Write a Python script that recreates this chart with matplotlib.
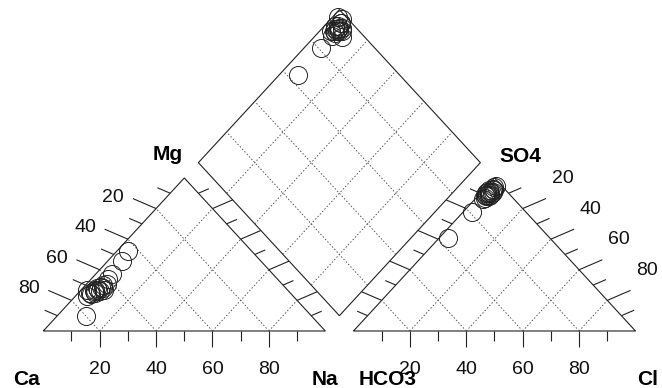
import numpy as np
import matplotlib
matplotlib.use("Agg")
import matplotlib.pyplot as plt

plt.rcParams['font.family'] = ['Liberation Sans', 'DejaVu Sans']

# cation percentages (Ca, Mg, Na) and anion percentages (HCO3, SO4, Cl) per sample
mg = [27, 26, 52, 25, 27, 29, 26, 28, 24, 46, 27, 25, 31, 27, 23, 34, 37, 30, 28, 10]
na = [6, 5, 4, 6, 5, 6, 7, 5, 5, 5, 8, 4, 7, 2, 4, 6, 6, 6, 7, 10]
so4 = [90, 91, 89, 92, 90, 88, 91, 93, 89, 92, 90, 87, 91, 94, 95, 88, 86, 78, 61, 89]
cl = [3, 3, 4, 2, 2, 3, 4, 3, 2, 4, 4, 3, 2, 3, 3, 4, 3, 3, 3, 3]

ticks = [10, 20, 30, 40, 50, 60, 70, 80, 90]
labels = [20, 40, 60, 80]

g = 0.1
h = np.sqrt(3) / 2
ang = np.radians(34.5)
ca_, sa_ = np.cos(ang), np.sin(ang)
long_len = 0.1
short_len = 0.055
link_len = h * g / np.cos(ang - np.radians(30))

fig = plt.figure(figsize=(6.62, 3.88), dpi=100)
ax = fig.add_axes([0, 0, 1, 1])
ax.set_xlim(-0.1535, 2.194)
ax.set_ylim(-0.3226, 1.873)
ax.axis('off')

lc = '#222222'
gc = '#555555'


def seg(p, q, **kw):
    ax.plot([p[0], q[0]], [p[1], q[1]], **kw)


solid = dict(color=lc, lw=0.8, solid_capstyle='butt')
dotted = dict(color=gc, lw=0.7, linestyle=(0, (1.5, 2)))

# triangles
for x0 in [0, 1 + g]:
    ax.plot([x0, x0 + 1, x0 + 0.5, x0], [0, 0, h, 0], **solid)
    for v in labels:
        f = v / 100
        seg((x0 + f, 0), (x0 + 0.5 + 0.5 * f, h * (1 - f)), **dotted)
        seg((x0 + f, 0), (x0 + 0.5 * f, h * f), **dotted)
    # bottom ticks
    for v in ticks:
        f = v / 100
        L = 0.088 if v % 20 == 0 else 0.058
        seg((x0 + f, 0), (x0 + f, -L), **solid)
    for v in labels:
        ax.text(x0 + v / 100, -0.245, str(v), ha='center', va='baseline',
                fontsize=14, color='#111111')

# diamond
B = np.array([1 + g / 2, h * g])
Ld = np.array([0.5 + g / 2, h * (1 + g)])
T = np.array([1 + g / 2, h * (2 + g)])
R = np.array([1.5 + g / 2, h * (1 + g)])
ax.plot([B[0], Ld[0], T[0], R[0], B[0]], [B[1], Ld[1], T[1], R[1], B[1]], **solid)
for v in labels:
    f = v / 100
    seg(B + f * (R - B), Ld + f * (T - Ld), **dotted)
    seg(B + f * (Ld - B), R + f * (T - R), **dotted)

# edge ticks
for v in ticks:
    f = v / 100
    even = v % 20 == 0
    # left triangle, left edge (outward)
    p = np.array([0.5 - 0.5 * f, h * (1 - f)])
    L = long_len if even else short_len
    seg(p, p + L * np.array([-ca_, sa_]), **solid)
    # left triangle, right edge (towards diamond)
    p = np.array([0.5 + 0.5 * f, h * (1 - f)])
    L = link_len if even else 0.045
    seg(p, p + L * np.array([ca_, sa_]), **solid)
    # right triangle, left edge (towards diamond)
    p = np.array([1 + g + 0.5 - 0.5 * f, h * (1 - f)])
    seg(p, p + L * np.array([-ca_, sa_]), **solid)
    # right triangle, right edge (outward)
    p = np.array([1 + g + 0.5 + 0.5 * f, h * (1 - f)])
    L = long_len if even else short_len
    seg(p, p + L * np.array([ca_, sa_]), **solid)

for v in labels:
    f = v / 100
    p = np.array([0.5 - 0.5 * f, h * (1 - f)])
    ax.text(p[0] - 0.152, p[1] + 0.065, str(v), ha='center', va='center',
            fontsize=14, color='#111111')
    p = np.array([1 + g + 0.5 + 0.5 * f, h * (1 - f)])
    ax.text(p[0] + 0.142, p[1] + 0.170, str(v), ha='center', va='center',
            fontsize=14, color='#111111')

# corner labels
bold = dict(fontsize=15, fontweight='bold', ha='center', va='baseline')
ax.text(-0.058, -0.306, 'Ca', **bold)
ax.text(0.999, -0.306, 'Na', **bold)
ax.text(1.222, -0.306, 'HCO3', **bold)
ax.text(2.144, -0.306, 'Cl', **bold)
ax.text(0.440, 0.968, 'Mg', **bold)
ax.text(1.690, 0.956, 'SO4', **bold)

# sample positions
mg_f = np.array(mg) / 100
na_f = np.array(na) / 100
so4_f = np.array(so4) / 100
cl_f = np.array(cl) / 100
hco3_f = 1 - so4_f - cl_f

cx = na_f + mg_f / 2
cy = h * mg_f
ax_ = 1 + g + cl_f + so4_f / 2
ay = h * so4_f
t = 2 + g - hco3_f - na_f
dx = na_f + t / 2
dy = h * t

mk = dict(marker='o', markersize=13, markerfacecolor='none',
          markeredgecolor='#222222', markeredgewidth=0.7, linestyle='none')
ax.plot(cx, cy, **mk)
ax.plot(ax_, ay, **mk)
ax.plot(dx, dy, **mk)

fig.savefig('out.png', dpi=100)
